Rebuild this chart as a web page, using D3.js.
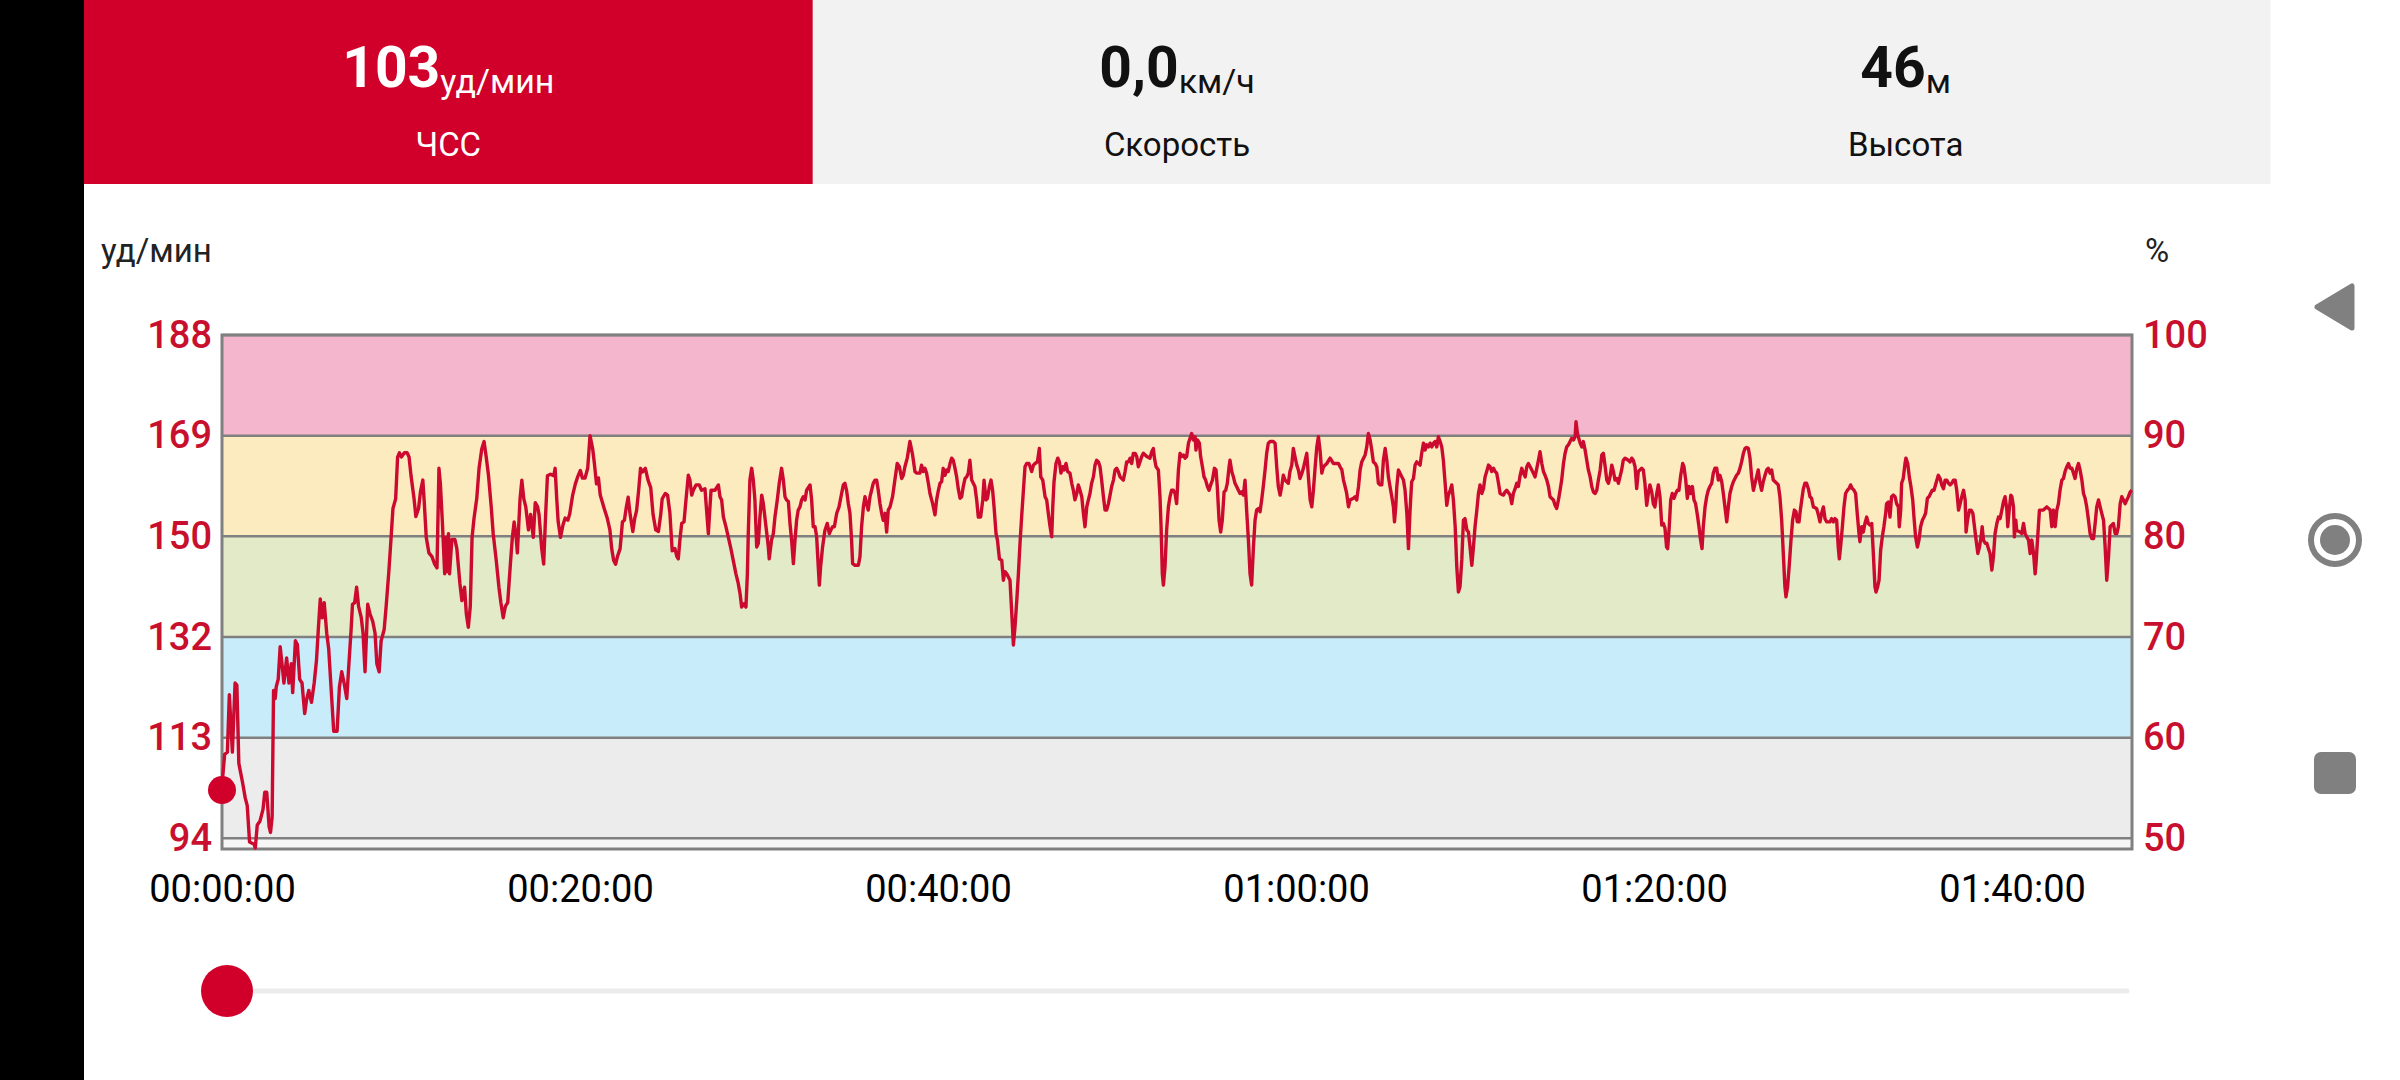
<!DOCTYPE html>
<html>
<head>
<meta charset="utf-8">
<script src="https://cdn.jsdelivr.net/npm/d3@7"></script>
<style>
  body { margin: 0; background: #fff; overflow: hidden; }
  svg { display: block; font-family: Roboto, "Noto Sans", sans-serif; }
</style>
</head>
<body>
<svg id="chart" width="2400" height="1080"></svg>
<script>
// header tiles
const tileValues = ['103', '0,0', '46'];
const tileUnits = ['уд/мин', 'км/ч', 'м'];
const tileNames = ['ЧСС', 'Скорость', 'Высота'];

// heart rate zones, % of max HR
const maxHr = 188;
const zonePct = [50, 60, 70, 80, 90, 100];
const zoneColors = ['#ececec', '#c8ecf9', '#e2eac8', '#fdebc0', '#f3b6cc'];
const bpmLabels = ['94', '113', '132', '150', '169', '188'];
const pctLabels = ['50', '60', '70', '80', '90', '100'];

// time axis, minutes
const durationMin = 106.7;
const timeTicks = [0, 20, 40, 60, 80, 100];
const timeLabels = ['00:00:00', '00:20:00', '00:40:00', '01:00:00', '01:20:00', '01:40:00'];

const currentMin = 0;
const currentHr = 103;

// [elapsed minutes, bpm]
const hrTrace = [
[0,104],[0.15,109.7],[0.3,110.1],[0.41,120.8],[0.58,110.1],[0.73,123.0],[0.83,122.6],[0.94,108.0],[1.15,104.4],[1.30,101.5],
[1.41,100.1],[1.54,93.3],[1.79,92.9],[1.86,92.2],[1.97,96.5],[2.12,97.2],[2.29,99.4],[2.39,102.6],[2.50,102.6],[2.63,96.2],
[2.71,95.1],[2.80,97.9],[2.88,121.6],[2.97,120.1],[3.03,122.3],[3.14,123.7],[3.25,129.8],[3.35,126.6],[3.46,123.0],[3.61,127.7],
[3.74,123.0],[3.87,126.6],[3.95,121.2],[4.10,130.9],[4.21,130.2],[4.34,123.7],[4.47,123.0],[4.62,117.3],[4.72,119.8],[4.85,121.6],
[5.00,119.4],[5.15,123.0],[5.28,127.3],[5.38,133.0],[5.49,138.7],[5.60,135.2],[5.71,138.0],[5.85,132.3],[5.96,129.4],[6.13,120.1],
[6.24,114.0],[6.43,114.0],[6.56,122.3],[6.69,125.1],[6.82,123.0],[6.97,120.1],[7.09,126.6],[7.22,133.4],[7.29,137.7],[7.41,138.0],
[7.52,140.9],[7.63,137.3],[7.78,135.2],[7.88,132.3],[7.99,125.1],[8.14,137.7],[8.27,135.9],[8.42,134.5],[8.55,132.3],[8.65,126.6],
[8.78,125.1],[8.89,130.9],[9.06,133.0],[9.17,137.3],[9.32,143.8],[9.42,148.8],[9.55,155.6],[9.70,157.4],[9.81,165.2],[9.91,166.0],
[10.02,165.2],[10.19,166.0],[10.34,166.0],[10.45,165.2],[10.56,161.7],[10.73,157.4],[10.83,154.1],[10.98,155.6],[11.09,158.8],[11.22,160.9],
[11.30,156.7],[11.41,150.2],[11.56,147.3],[11.73,146.6],[11.88,145.2],[12.01,144.5],[12.12,163.1],[12.20,160.2],[12.31,153.1],[12.44,143.4],
[12.52,150.2],[12.59,143.8],[12.65,150.9],[12.71,143.4],[12.84,149.8],[13.01,149.8],[13.12,148.1],[13.29,141.6],[13.40,138.4],[13.55,140.9],
[13.65,135.9],[13.76,133.4],[13.87,137.3],[13.97,150.2],[14.08,153.8],[14.23,157.4],[14.36,163.1],[14.51,166.7],[14.64,168.1],[14.76,165.2],
[14.89,161.7],[15.04,155.9],[15.15,150.9],[15.32,145.9],[15.47,140.9],[15.58,138.0],[15.71,135.2],[15.83,137.3],[15.96,138.0],[16.11,145.2],
[16.22,150.2],[16.32,153.1],[16.43,150.2],[16.50,147.3],[16.65,157.4],[16.75,160.9],[16.86,157.4],[16.97,155.9],[17.12,151.6],[17.24,154.5],
[17.39,150.2],[17.50,156.7],[17.63,155.9],[17.71,154.5],[17.86,148.1],[17.97,145.2],[18.08,154.5],[18.18,161.7],[18.35,162.0],[18.53,161.7],
[18.61,163.1],[18.70,157.4],[18.78,153.1],[18.91,150.2],[19.04,152.4],[19.17,153.8],[19.32,153.4],[19.42,154.5],[19.59,158.1],[19.74,160.2],
[19.89,161.7],[20.02,162.7],[20.13,161.3],[20.28,161.3],[20.43,163.1],[20.56,169.2],[20.71,166.7],[20.81,163.8],[20.92,160.2],[21.03,161.3],
[21.13,158.1],[21.35,155.6],[21.52,153.8],[21.67,151.6],[21.77,148.1],[21.88,145.9],[21.99,145.2],[22.09,146.6],[22.24,148.1],[22.37,153.1],
[22.48,153.4],[22.59,155.9],[22.69,157.7],[22.80,154.5],[22.95,151.3],[23.06,153.8],[23.16,155.2],[23.27,158.8],[23.38,163.1],[23.48,162.4],
[23.65,163.1],[23.80,160.9],[23.95,159.5],[24.08,154.5],[24.23,151.6],[24.38,151.3],[24.51,154.5],[24.59,157.4],[24.76,158.4],[24.89,158.1],
[25.02,154.8],[25.15,147.7],[25.30,148.1],[25.41,146.6],
[25.49,146.2],[25.58,149.7],[25.68,152.8],[25.81,153.1],[25.92,157.2],[26.05,161.8],[26.14,160.9],[26.24,158.1],[26.33,159.0],[26.48,160.0],
[26.66,160.0],[26.79,159.0],[26.98,159.3],[27.07,155.3],[27.17,150.9],[27.26,155.9],[27.32,159.0],[27.54,159.0],[27.73,160.0],[27.82,157.8],
[27.91,157.2],[28.01,154.0],[28.15,152.2],[28.28,150.3],[28.41,148.4],[28.56,145.9],[28.71,143.4],[28.84,141.6],[28.94,139.7],[29.03,137.2],
[29.16,137.8],[29.27,137.2],[29.35,143.4],[29.40,150.9],[29.49,160.9],[29.59,163.1],[29.68,160.9],[29.77,157.2],[29.87,148.4],[29.96,149.1],
[30.05,154.0],[30.15,158.1],[30.24,156.5],[30.39,152.2],[30.52,148.4],[30.57,146.2],[30.70,149.7],[30.80,150.9],[30.89,154.0],[31.02,157.2],
[31.13,160.3],[31.26,163.1],[31.36,160.9],[31.45,157.8],[31.54,157.2],[31.64,156.9],[31.73,152.8],[31.82,149.7],[31.92,145.3],[32.01,149.7],
[32.10,153.4],[32.19,155.3],[32.29,155.9],[32.38,157.2],[32.47,157.8],[32.57,157.2],[32.66,159.0],[32.85,160.0],[32.94,157.2],[33.03,152.2],
[33.13,152.2],[33.22,150.3],[33.31,144.7],[33.37,141.3],[33.44,144.7],[33.55,148.4],[33.68,151.5],[33.81,152.8],[33.93,150.9],[34.00,151.5],
[34.11,152.2],[34.21,152.2],[34.34,154.7],[34.47,155.9],[34.58,157.8],[34.71,160.0],[34.80,160.3],[34.89,159.0],[34.99,156.5],[35.08,154.7],
[35.17,149.7],[35.23,145.3],[35.36,145.0],[35.55,145.0],[35.64,146.6],[35.73,152.2],[35.83,155.9],[35.92,157.8],[36.01,156.5],[36.10,155.3],
[36.20,157.8],[36.29,159.0],[36.38,160.3],[36.48,160.9],[36.57,160.9],[36.66,159.0],[36.76,156.5],[36.85,154.7],[36.94,153.4],[37.04,154.7],
[37.13,151.2],[37.22,155.3],[37.32,155.9],[37.46,157.8],[37.59,160.9],[37.72,164.0],[37.84,163.4],[37.97,161.2],[38.06,161.8],[38.15,163.4],
[38.28,165.0],[38.43,168.1],[38.58,165.6],[38.71,162.5],[38.80,162.2],[38.99,162.2],[39.08,163.7],[39.18,162.5],[39.27,163.1],[39.36,162.2],
[39.46,160.3],[39.55,158.4],[39.70,156.5],[39.83,154.4],[39.92,157.2],[40.02,159.0],[40.11,160.3],[40.20,160.6],[40.29,163.1],[40.39,161.8],
[40.48,162.8],[40.57,162.5],[40.67,164.0],[40.76,165.0],[40.85,164.6],[40.95,163.1],[41.04,161.5],[41.13,159.3],[41.23,157.5],[41.32,157.8],
[41.41,159.7],[41.51,161.2],[41.60,161.5],[41.69,162.2],[41.78,164.6],[41.88,160.9],[41.97,160.3],[42.06,159.7],[42.16,157.2],[42.25,154.0],
[42.38,154.0],[42.50,157.2],[42.57,160.9],[42.68,157.2],[42.76,157.5],[42.87,159.7],[42.96,160.9],[43.05,159.0],[43.13,155.9],[43.24,150.9],
[43.32,149.7],[43.43,146.2],[43.56,145.9],[43.65,142.2],[43.74,143.8],[43.84,143.4],[43.93,142.8],[44.02,142.2],[44.12,136.0],[44.21,130.1],
[44.30,133.5],[44.40,138.5],[44.49,143.4],[44.58,149.1],[44.67,154.0],[44.77,159.0],[44.86,163.4],[44.95,164.0],[45.08,164.0],[45.23,162.5],
[45.33,163.7],[45.42,164.0],[45.55,164.3],[45.66,166.8],[45.74,161.5],[45.85,160.9],[45.98,157.8],[46.07,157.2],[46.16,154.7],[46.26,152.2],
[46.35,150.3],[46.41,155.9],[46.48,160.6],[46.59,164.0],[46.69,165.0],[46.78,164.3],[46.87,162.2],[46.97,163.4],[47.04,162.8],[47.15,164.0],
[47.24,162.5],[47.37,162.2],[47.47,160.3],[47.56,159.0],[47.65,157.2],[47.75,158.4],[47.84,160.0],[47.93,159.0],[48.03,157.8],[48.12,154.7],
[48.21,152.2],[48.31,155.9],[48.40,157.2],[48.49,158.4],[48.58,160.3],[48.68,161.5],[48.77,163.7],[48.86,164.6],[48.96,164.3],[49.05,163.4],
[49.14,160.9],[49.24,157.8],[49.33,155.3],[49.42,155.3],[49.52,156.5],[49.61,158.1],[49.70,159.7],[49.80,160.9],[49.89,162.8],[49.98,163.1],
[50.07,162.5],[50.17,161.5],[50.26,161.2],[50.35,160.9],[50.45,162.5],[50.54,164.3],[50.63,164.3],[50.73,165.0],[50.82,164.0],[50.91,165.9],
[51.01,165.9],[51.10,165.3],[51.19,163.4],[51.28,164.3],[51.38,165.3],[51.47,165.9],[51.66,165.3],[51.84,165.0],[51.94,166.2],[52.03,166.8],
[52.09,165.0],[52.18,163.4],[52.31,162.8],[52.40,157.8],[52.46,152.2],[52.53,143.4],[52.59,141.3],[52.68,144.7],[52.77,151.5],[52.87,155.9],
[52.96,157.8],[53.05,159.0],[53.15,159.0],[53.24,158.4],[53.33,156.5],[53.43,162.8],[53.52,165.9],[53.61,165.3],[53.71,165.6],[53.80,165.0],
[53.89,165.3],[53.99,167.8],[54.08,168.7],[54.17,169.6],[54.26,168.4],[54.36,169.0],[54.41,166.5],[54.49,168.4],[54.60,167.8],[54.67,165.3],
[54.77,163.4],[54.86,161.5],[54.95,160.9],[55.05,159.7],[55.14,159.0],[55.23,160.0],[55.33,160.9],[55.44,163.1],[55.53,162.8],[55.60,159.7],
[55.70,153.4],[55.79,151.2],[55.88,153.4],[55.98,158.7],[56.07,159.0],[56.16,160.3],[56.26,163.4],[56.31,164.6],[56.41,162.5],[56.50,161.5],
[56.59,160.3],[56.68,159.7],[56.78,159.0],[56.87,158.4],[56.96,158.7],[57.06,158.1],[57.15,160.9],[57.24,155.3],[57.34,149.7],[57.43,143.4],
[57.52,141.3],[57.62,148.4],[57.71,153.4],[57.80,155.3],[57.90,155.6],[57.99,155.0],[58.08,157.2],[58.17,159.7],[58.27,162.8],[58.36,165.9],
[58.45,167.8],[58.55,168.1],[58.73,168.1],[58.83,167.8],[58.92,163.4],[59.01,159.7],[59.11,158.1],[59.20,159.7],[59.29,161.8],[59.39,160.9],
[59.48,160.6],[59.57,160.3],[59.66,162.5],[59.76,163.7],[59.85,166.8],[59.94,165.3],[60.04,163.7],[60.13,162.8],[60.22,161.2],
[60.32,162.1],[60.41,163.1],[60.51,164.6],[60.60,165.9],[60.69,161.5],[60.79,157.2],[60.88,155.9],[60.97,159.0],[61.07,163.4],[61.16,167.1],
[61.25,169.0],[61.34,166.5],[61.44,162.2],[61.53,163.4],[61.72,164.0],[61.90,165.0],[62.09,164.0],[62.37,164.0],[62.46,163.4],[62.56,162.8],
[62.65,160.9],[62.74,159.7],[62.83,158.4],[62.93,155.9],[63.02,157.2],[63.21,157.5],[63.30,157.8],[63.39,157.2],[63.49,159.7],[63.58,162.8],
[63.67,164.3],[63.77,165.0],[63.86,165.6],[63.95,167.1],[64.04,169.6],[64.14,168.4],[64.23,166.5],[64.32,164.3],[64.42,164.0],[64.51,163.4],
[64.60,160.3],[64.70,160.0],[64.79,160.0],[64.88,164.6],[64.98,166.8],[65.07,164.6],[65.16,161.5],[65.25,159.7],[65.35,157.8],[65.44,155.9],
[65.50,153.1],[65.57,155.9],[65.63,159.7],[65.72,162.8],[65.81,162.2],[65.91,161.5],[66.00,160.9],[66.09,159.0],[66.19,154.7],[66.28,148.1],
[66.37,155.3],[66.46,160.6],[66.56,161.2],[66.65,163.7],[66.74,164.3],[66.93,163.7],[67.02,165.9],[67.12,167.8],[67.21,166.5],[67.30,167.5],
[67.40,167.1],[67.49,167.8],[67.58,167.1],[67.68,167.8],[67.77,168.1],[67.86,167.1],[67.95,169.0],[68.05,168.1],[68.14,167.1],[68.23,164.6],
[68.33,160.3],[68.42,156.2],[68.51,158.1],[68.61,159.0],[68.70,160.0],[68.79,157.2],[68.89,152.2],[68.98,144.7],[69.07,140.0],[69.16,141.0],
[69.26,146.0],[69.35,153.4],[69.44,153.7],[69.54,151.6],[69.63,151.2],[69.72,148.4],[69.82,145.0],[69.91,148.4],[70.00,152.2],[70.10,155.3],
[70.19,158.4],[70.28,160.0],[70.38,158.4],[70.47,159.3],[70.56,161.5],[70.65,162.5],[70.75,163.7],[70.84,163.4],[70.93,162.5],[71.03,163.1],
[71.12,162.5],[71.21,162.2],[71.31,160.3],[71.40,158.4],[71.59,158.1],[71.68,158.7],[71.77,159.0],[71.96,158.1],[72.05,156.5],[72.14,158.4],
[72.24,159.3],[72.33,160.3],[72.42,159.7],[72.52,161.8],[72.61,163.1],[72.70,162.2],[72.80,161.5],[72.89,163.4],[72.98,164.0],[73.08,163.4],
[73.26,162.2],[73.35,161.5],[73.45,163.1],[73.54,164.6],[73.63,166.2],[73.73,164.0],[73.82,162.5],[73.91,161.8],[74.01,160.9],[74.10,159.7],
[74.19,157.8],[74.38,157.2],[74.47,156.2],[74.56,155.6],[74.66,157.2],[74.75,159.0],[74.84,160.9],[74.94,164.0],[75.03,165.9],[75.12,167.1],
[75.22,167.5],[75.31,168.1],[75.40,168.7],[75.50,168.4],[75.59,169.0],[75.64,171.8],[75.72,169.6],[75.77,169.0],[75.87,167.8],[75.96,167.1],
[76.05,168.1],[76.15,166.5],[76.24,164.6],[76.33,162.8],[76.43,161.5],[76.52,159.7],[76.61,158.7],[76.71,158.4],[76.80,159.0],[76.89,160.9],
[76.99,162.8],[77.08,165.6],[77.17,165.9],[77.27,163.4],[77.36,160.9],[77.45,160.3],[77.54,161.5],[77.64,163.7],[77.73,162.5],[77.82,160.9],
[77.92,161.2],[78.01,160.3],
[78.19,162.8],[78.28,164.6],[78.38,165.0],[78.56,164.6],[78.66,164.3],[78.75,165.0],[78.84,164.6],[78.94,163.4],[79.03,159.3],[79.12,162.5],
[79.31,163.1],[79.40,162.8],[79.49,160.3],[79.59,156.2],[79.68,158.4],[79.77,160.0],[79.87,158.7],[79.96,156.5],[80.05,155.9],[80.15,158.4],
[80.24,160.0],[80.33,157.8],[80.43,152.5],[80.52,152.8],[80.61,151.9],[80.70,148.4],[80.76,148.1],[80.85,152.2],[80.93,157.2],[81.02,158.4],
[81.11,157.5],[81.21,158.4],[81.30,159.0],[81.39,159.0],[81.49,161.8],[81.60,164.0],[81.67,163.4],[81.77,160.9],[81.86,157.5],[81.95,159.7],
[82.04,158.4],[82.14,159.7],[82.23,157.2],[82.32,156.5],[82.42,154.4],[82.51,152.2],[82.60,149.7],[82.68,148.1],[82.75,152.2],[82.85,155.9],
[82.94,157.8],[83.03,159.0],[83.12,159.7],[83.22,160.3],[83.31,162.2],[83.40,163.1],[83.50,163.1],[83.59,160.9],[83.68,161.8],[83.78,160.6],
[83.87,158.4],[83.96,155.9],[84.06,153.1],[84.15,155.9],[84.24,158.4],[84.34,159.7],[84.43,160.6],[84.52,161.2],[84.61,161.8],[84.71,162.2],
[84.80,163.1],[84.89,164.3],[84.99,165.9],[85.08,166.8],[85.17,167.0],[85.27,166.8],[85.36,165.0],[85.45,161.5],[85.55,159.0],[85.64,160.3],
[85.73,161.5],[85.82,162.8],[85.92,160.3],[86.01,159.0],[86.10,160.6],[86.20,161.8],[86.29,162.8],[86.38,163.1],[86.48,162.2],[86.57,162.8],
[86.66,160.9],[86.85,160.3],[86.94,160.0],[87.03,157.8],[87.13,153.4],[87.22,147.2],[87.31,141.0],[87.37,139.1],[87.46,141.0],[87.56,145.3],
[87.65,149.7],[87.74,153.4],[87.84,155.3],[87.93,155.0],[88.00,153.1],[88.10,153.1],[88.15,154.7],[88.25,157.2],[88.34,159.3],[88.43,160.3],
[88.52,160.3],[88.62,159.3],[88.71,157.8],[88.80,157.5],[88.90,155.9],[89.08,155.6],[89.18,154.4],[89.27,153.1],[89.36,154.7],[89.46,155.9],
[89.55,153.7],[89.64,153.1],[89.83,153.1],[89.92,153.7],[90.01,153.1],[90.11,153.7],[90.20,153.4],[90.29,148.4],[90.35,146.2],[90.42,148.4],
[90.52,152.2],[90.61,155.9],[90.70,158.4],[90.80,159.0],[90.89,159.3],[90.98,160.0],[91.08,159.3],[91.17,159.0],[91.26,158.4],[91.35,154.7],
[91.45,150.9],[91.50,149.4],[91.60,152.2],[91.69,151.2],[91.78,152.8],[91.88,154.0],[91.97,152.8],[92.06,152.5],[92.16,152.8],[92.25,147.2],
[92.34,141.0],[92.40,140.0],[92.49,141.0],[92.57,142.2],[92.66,147.8],[92.75,150.3],[92.84,152.2],[92.94,154.7],[92.99,156.5],[93.09,156.8],
[93.18,154.0],[93.27,157.8],[93.37,158.1],[93.46,157.8],[93.55,156.5],[93.65,155.9],[93.70,152.2],[93.78,155.3],[93.83,160.3],[93.92,161.2],
[94.02,164.0],[94.07,165.0],[94.17,164.0],[94.26,161.5],[94.35,159.7],[94.45,157.2],[94.52,154.0],[94.61,150.3],[94.71,148.4],[94.80,149.7],
[94.89,152.2],[94.99,153.4],[95.08,154.0],[95.17,154.7],[95.27,157.5],[95.36,157.8],[95.45,158.4],[95.54,159.0],[95.64,159.0],[95.75,160.3],
[95.88,161.8],
[95.98,161.2],[96.07,160.0],[96.17,159.3],[96.26,160.9],[96.35,160.9],[96.45,160.3],[96.54,160.0],[96.63,160.3],[96.73,160.9],[96.82,160.9],
[96.91,159.0],[97.01,155.3],[97.10,156.5],[97.19,157.8],[97.29,159.0],[97.38,157.2],[97.43,151.2],[97.51,153.4],[97.62,155.3],[97.71,155.3],
[97.81,154.7],[97.90,152.2],[97.99,149.7],[98.09,147.2],[98.18,148.4],[98.27,150.3],[98.33,152.2],[98.40,149.7],[98.50,149.1],[98.59,149.1],
[98.68,148.1],[98.77,147.2],[98.87,144.1],[98.96,146.6],[99.05,150.9],[99.15,152.8],[99.24,154.0],[99.33,153.7],[99.43,155.3],[99.52,156.9],
[99.61,157.8],[99.71,155.3],[99.76,152.2],[99.84,155.3],[99.93,158.1],[99.99,157.8],[100.08,155.9],[100.13,150.3],[100.21,153.4],[100.26,151.5],
[100.45,151.2],[100.54,150.9],[100.64,152.8],[100.73,150.9],[100.82,150.3],[100.92,149.7],[101.01,147.2],[101.10,149.7],[101.20,147.2],[101.29,143.4],
[101.34,145.3],[101.42,149.7],[101.53,155.3],[101.75,155.3],[101.94,155.9],[102.13,155.3],[102.22,152.2],[102.31,155.3],[102.41,152.2],[102.50,155.3],
[102.59,156.5],[102.68,159.0],[102.78,160.9],[102.87,161.2],[102.96,162.5],[103.06,163.4],[103.15,164.0],[103.24,163.1],[103.34,163.1],[103.43,162.2],
[103.52,161.2],[103.62,163.1],[103.71,164.0],[103.80,162.8],[103.90,160.9],[103.99,158.4],[104.08,157.5],[104.17,155.9],[104.27,153.4],[104.36,150.9],
[104.45,150.0],[104.55,150.0],[104.64,152.8],[104.73,155.9],[104.83,157.2],[104.92,155.9],[105.01,154.7],[105.11,153.4],[105.20,148.4],[105.29,142.2],
[105.39,146.6],[105.48,152.2],[105.66,152.8],[105.76,150.9],[105.85,150.9],[105.94,152.2],[106.04,156.5],[106.13,157.8],[106.22,157.2],[106.32,156.5],
[106.41,157.2],[106.50,157.8],[106.60,158.7],[106.69,159.0]
];

const svg = d3.select('#chart');
const red = '#d0002a';
const lineRed = '#cc0a2f';
const labelRed = '#c8102e';
const grid = '#808080';

// black strip on the left
svg.append('rect').attr('x', 0).attr('y', 0).attr('width', 84).attr('height', 1080).attr('fill', '#000');

// header tiles
const tileW = (2270 - 84) / 3;
tileValues.forEach((v, i) => {
    const x0 = 84 + i * tileW;
    svg.append('rect')
        .attr('x', x0).attr('y', 0).attr('width', tileW + 0.5).attr('height', 184)
        .attr('fill', i === 0 ? red : '#f2f2f2');
    const col = i === 0 ? '#fff' : '#111';
    const t = svg.append('text')
        .attr('x', x0 + tileW / 2).attr('y', 87)
        .attr('text-anchor', 'middle').attr('fill', col);
    t.append('tspan').attr('font-size', 57).attr('font-weight', 700).text(v);
    t.append('tspan').attr('font-size', 34).attr('dy', 6).text(tileUnits[i]);
    svg.append('text')
        .attr('x', x0 + tileW / 2).attr('y', 156)
        .attr('text-anchor', 'middle').attr('fill', col)
        .attr('font-size', 33)
        .text(tileNames[i]);
});

// scales
const x = d3.scaleLinear().domain([0, durationMin]).range([222, 2132]);
const y = d3.scaleLinear().domain([92, maxHr]).range([849, 335]);
const pctToBpm = p => maxHr * p / 100;

// zone bands
svg.append('rect')
    .attr('x', x(0)).attr('width', x(durationMin) - x(0))
    .attr('y', y(pctToBpm(zonePct[0]))).attr('height', y(92) - y(pctToBpm(zonePct[0])))
    .attr('fill', '#f6f6f6');

svg.append('g').selectAll('rect')
    .data(zoneColors)
    .join('rect')
    .attr('x', x(0))
    .attr('width', x(durationMin) - x(0))
    .attr('y', (d, i) => y(pctToBpm(zonePct[i + 1])))
    .attr('height', (d, i) => y(pctToBpm(zonePct[i])) - y(pctToBpm(zonePct[i + 1])))
    .attr('fill', d => d);

svg.append('g').selectAll('line')
    .data(zonePct)
    .join('line')
    .attr('x1', x(0)).attr('x2', x(durationMin))
    .attr('y1', d => y(pctToBpm(d))).attr('y2', d => y(pctToBpm(d)))
    .attr('stroke', grid).attr('stroke-width', 2.5);

svg.append('rect')
    .attr('x', x(0)).attr('y', y(maxHr))
    .attr('width', x(durationMin) - x(0)).attr('height', y(92) - y(maxHr))
    .attr('fill', 'none').attr('stroke', grid).attr('stroke-width', 3);

// heart rate trace
svg.append('path')
    .datum(hrTrace)
    .attr('d', d3.line().x(d => x(d[0])).y(d => y(d[1])))
    .attr('fill', 'none')
    .attr('stroke', lineRed)
    .attr('stroke-width', 3.4)
    .attr('stroke-linejoin', 'round');

svg.append('circle')
    .attr('cx', x(currentMin)).attr('cy', y(currentHr)).attr('r', 14)
    .attr('fill', red);

// axes
const zoneBpm = zonePct.map(pctToBpm);

const leftAxis = svg.append('g')
    .attr('transform', `translate(${x(0)},0)`)
    .call(d3.axisLeft(y).tickValues(zoneBpm).tickFormat((d, i) => bpmLabels[i]).tickSize(0).tickPadding(10));
const rightAxis = svg.append('g')
    .attr('transform', `translate(${x(durationMin)},0)`)
    .call(d3.axisRight(y).tickValues(zoneBpm).tickFormat((d, i) => pctLabels[i]).tickSize(0).tickPadding(11));
[leftAxis, rightAxis].forEach(g => {
    g.select('.domain').remove();
    g.attr('font-family', 'Roboto, "Noto Sans", sans-serif')
        .attr('font-size', 38).attr('font-weight', 500)
        .style('color', labelRed);
});

const bottomAxis = svg.append('g')
    .attr('transform', `translate(0,${y(92)})`)
    .call(d3.axisBottom(x).tickValues(timeTicks).tickFormat((d, i) => timeLabels[i]).tickSize(0).tickPadding(26));
bottomAxis.select('.domain').remove();
bottomAxis.attr('font-family', 'Roboto, "Noto Sans", sans-serif')
    .attr('font-size', 38)
    .style('color', '#000');

// unit titles
svg.append('text').attr('x', 101).attr('y', 262).attr('font-size', 33).attr('fill', '#222').text('уд/мин');
svg.append('text').attr('x', 2145).attr('y', 262).attr('font-size', 33).attr('fill', '#222').text('%');

// time slider
const slider = d3.scaleLinear().domain([0, durationMin]).range([227, 2127]);
svg.append('line')
    .attr('x1', slider(0)).attr('x2', slider(durationMin))
    .attr('y1', 991).attr('y2', 991)
    .attr('stroke', '#ececec').attr('stroke-width', 5).attr('stroke-linecap', 'round');
svg.append('circle')
    .attr('cx', slider(currentMin)).attr('cy', 991).attr('r', 26)
    .attr('fill', red);

// android nav buttons
const nav = '#808080';
svg.append('path')
    .attr('d', 'M2352,286 L2352,328 L2317,307 Z')
    .attr('fill', nav).attr('stroke', nav).attr('stroke-width', 5).attr('stroke-linejoin', 'round');
svg.append('circle').attr('cx', 2335).attr('cy', 540).attr('r', 24)
    .attr('fill', 'none').attr('stroke', nav).attr('stroke-width', 6);
svg.append('circle').attr('cx', 2335).attr('cy', 540).attr('r', 15).attr('fill', nav);
svg.append('rect').attr('x', 2314).attr('y', 752).attr('width', 42).attr('height', 42).attr('rx', 7)
    .attr('fill', nav);
</script>
</body>
</html>
